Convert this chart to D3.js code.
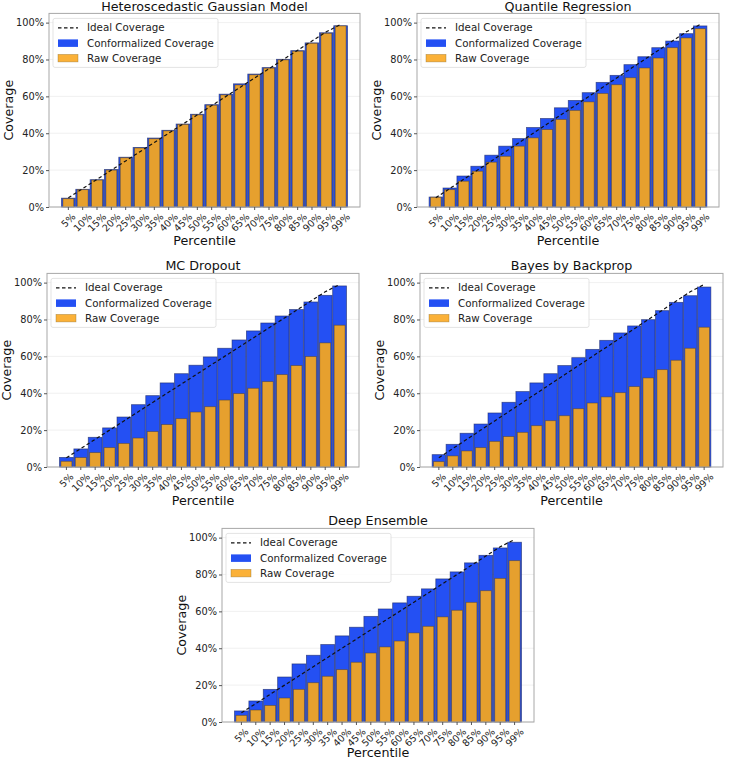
<!DOCTYPE html>
<html>
<head>
<meta charset="utf-8">
<script src="https://cdn.jsdelivr.net/npm/d3@7"></script>
<style>
  body { margin: 0; background: #fff; }
  svg { display: block; font-family: "DejaVu Sans", sans-serif; }
</style>
</head>
<body>
<script>
'use strict';

// percentiles on the x axis
const percentiles = [5, 10, 15, 20, 25, 30, 35, 40, 45, 50, 55, 60, 65, 70, 75, 80, 85, 90, 95, 99];
const tickLabels = percentiles.map(p => p + '%');
const yTicks = [0, 20, 40, 60, 80, 100];

// values (coverage in %)
const hgmConf = [4.8, 9.6, 14.8, 20.3, 27.0, 32.3, 37.4, 41.6, 45.0, 50.3, 55.5, 61.2, 66.8, 72.1, 75.6, 80.1, 84.8, 89.0, 94.5, 98.3];
const hgmRaw  = [4.5, 9.4, 14.6, 20.0, 26.7, 32.0, 37.0, 41.3, 44.8, 50.0, 55.2, 60.8, 66.2, 71.7, 75.3, 79.8, 84.5, 88.8, 94.2, 98.2];

const qrConf = [5.4, 10.3, 16.8, 22.1, 28.1, 33.0, 37.1, 43.1, 48.0, 53.8, 57.8, 62.0, 67.6, 71.4, 77.2, 81.5, 86.4, 90.0, 94.0, 98.2];
const qrRaw  = [5.3, 9.4, 14.0, 19.4, 24.3, 27.5, 33.0, 37.5, 42.0, 47.5, 52.4, 57.0, 61.6, 66.3, 70.1, 75.4, 80.8, 86.4, 91.7, 96.7];

const mcConf = [5.2, 9.8, 16.1, 21.2, 27.1, 33.8, 38.7, 45.6, 50.6, 55.2, 59.7, 64.4, 68.9, 73.8, 78.1, 81.9, 85.4, 89.5, 93.1, 98.2];
const mcRaw  = [3.1, 5.1, 7.8, 10.5, 12.8, 15.7, 19.2, 23.0, 26.2, 29.8, 32.7, 36.3, 39.8, 42.7, 46.3, 50.1, 55.0, 59.9, 67.3, 76.9];

const bbbConf = [6.7, 12.3, 18.3, 23.3, 29.3, 35.1, 40.9, 45.6, 50.6, 55.0, 59.3, 63.8, 68.7, 72.7, 76.5, 79.9, 84.8, 89.3, 92.9, 97.6];
const bbbRaw  = [2.9, 6.0, 8.7, 10.5, 13.9, 16.5, 18.8, 22.4, 25.1, 27.8, 31.6, 34.7, 38.0, 40.3, 43.6, 48.3, 52.8, 57.9, 64.4, 75.8];

const deConf = [6.0, 11.4, 17.7, 24.4, 31.5, 36.2, 42.0, 46.7, 51.4, 57.3, 61.3, 64.6, 68.2, 72.2, 77.6, 81.4, 86.3, 90.4, 94.4, 97.5];
const deRaw  = [3.6, 6.5, 9.0, 13.0, 17.7, 21.3, 24.8, 28.4, 32.4, 37.4, 40.7, 43.9, 48.3, 51.9, 57.0, 60.6, 64.9, 71.2, 77.9, 87.5];

const blue = '#2450f3';
const orange = '#e6a02e';
const orangeLegend = '#fbb138';

const panels = [
  { title: 'Heteroscedastic Gaussian Model', conf: hgmConf, raw: hgmRaw, left: 49, right: 360, base: 207 },
  { title: 'Quantile Regression', conf: qrConf, raw: qrRaw, left: 417, right: 719, base: 207 },
  { title: 'MC Dropout', conf: mcConf, raw: mcRaw, left: 47, right: 359, base: 467 },
  { title: 'Bayes by Backprop', conf: bbbConf, raw: bbbRaw, left: 420, right: 723, base: 467 },
  { title: 'Deep Ensemble', conf: deConf, raw: deRaw, left: 222, right: 534, base: 722 }
];

const svg = d3.select('body').append('svg')
  .attr('width', 733)
  .attr('height', 761);

svg.append('rect').attr('width', 733).attr('height', 761).attr('fill', '#fff');

panels.forEach(drawPanel);

function drawPanel(p) {
  const top = p.base - 193.6;
  const g = svg.append('g');

  let x = d3.scaleBand()
    .domain(tickLabels)
    .range([p.left, p.right])
    .paddingInner(0)
    .paddingOuter(0.85);
  let y = d3.scaleLinear()
    .domain([0, 105])
    .range([p.base, top]);
  const bw = x.bandwidth();
  const cx = d => x(d) + bw / 2;

  // grid
  g.selectAll('.grid')
    .data(yTicks)
    .enter()
    .append('line')
      .attr('x1', p.left).attr('x2', p.right)
      .attr('y1', d => y(d)).attr('y2', d => y(d))
      .attr('stroke', '#ececec')
      .attr('stroke-width', 0.8);

  // conformalized bars (behind)
  g.selectAll('.conf')
    .data(p.conf)
    .enter()
    .append('rect')
      .attr('x', (d, i) => cx(tickLabels[i]) - bw * 0.48)
      .attr('width', bw * 0.96)
      .attr('y', d => y(d))
      .attr('height', d => p.base - y(d))
      .attr('fill', blue)
      .attr('stroke', '#1c2a6a')
      .attr('stroke-opacity', 0.7)
      .attr('stroke-width', 0.8);

  // raw bars (front)
  g.selectAll('.raw')
    .data(p.raw)
    .enter()
    .append('rect')
      .attr('x', (d, i) => cx(tickLabels[i]) - bw * 0.38)
      .attr('width', bw * 0.76)
      .attr('y', d => y(d))
      .attr('height', d => p.base - y(d))
      .attr('fill', orange)
      .attr('stroke', '#4a3a20')
      .attr('stroke-opacity', 0.55)
      .attr('stroke-width', 0.8);

  // ideal coverage line
  let line = d3.line()
    .x((d, i) => cx(tickLabels[i]))
    .y(d => y(d));
  g.append('path')
    .datum(percentiles)
    .attr('d', line)
    .attr('fill', 'none')
    .attr('stroke', '#111')
    .attr('stroke-width', 1.2)
    .attr('stroke-dasharray', '3.5,2.5');

  // frame
  g.append('rect')
    .attr('x', p.left).attr('y', top)
    .attr('width', p.right - p.left).attr('height', p.base - top)
    .attr('fill', 'none')
    .attr('stroke', '#a8a8a8')
    .attr('stroke-width', 1);

  // y axis
  let yAxis = d3.axisLeft(y)
    .tickValues(yTicks)
    .tickSize(3)
    .tickPadding(2)
    .tickFormat(d => d + '%');
  let ya = g.append('g')
    .attr('transform', 'translate(' + p.left + ',0)')
    .call(yAxis);
  ya.select('.domain').remove();
  ya.selectAll('line').attr('stroke', '#555');
  ya.selectAll('text')
    .attr('font-family', '"DejaVu Sans", sans-serif')
    .attr('font-size', '9.8px')
    .attr('fill', '#222');

  // x axis, rotated labels
  let xAxis = d3.axisBottom(x).tickSize(3).tickFormat('');
  let xa = g.append('g')
    .attr('transform', 'translate(0,' + p.base + ')')
    .call(xAxis);
  xa.select('.domain').remove();
  xa.selectAll('line').attr('stroke', '#555');

  tickLabels.forEach(function(lab) {
    let t = g.append('text')
      .attr('font-size', '9.6px')
      .attr('fill', '#222')
      .attr('text-anchor', 'middle')
      .attr('dy', '0.35em')
      .text(lab);
    const w = t.node().getComputedTextLength();
    const half = (w + 11) / Math.SQRT2 / 2;
    t.attr('transform', 'translate(' + cx(lab) + ',' + (p.base + 4 + half) + ') rotate(-45)');
  });

  // labels
  const mid = (p.left + p.right) / 2;
  g.append('text')
    .attr('x', mid).attr('y', Math.max(top - 3, 11))
    .attr('text-anchor', 'middle')
    .attr('font-size', '12.7px')
    .attr('fill', '#111')
    .text(p.title);
  g.append('text')
    .attr('x', mid).attr('y', Math.min(p.base + 38, 757))
    .attr('text-anchor', 'middle')
    .attr('font-size', '12.7px')
    .attr('fill', '#111')
    .text('Percentile');
  g.append('text')
    .attr('transform', 'translate(' + (p.left - 36) + ',' + ((top + p.base) / 2) + ') rotate(-90)')
    .attr('text-anchor', 'middle')
    .attr('font-size', '12.7px')
    .attr('fill', '#111')
    .text('Coverage');

  makeLegend(g, p.left + 4, top + 5);
}

function makeLegend(g, lx, ly) {
  g.append('rect')
    .attr('x', lx).attr('y', ly)
    .attr('width', 165).attr('height', 49)
    .attr('rx', 2)
    .attr('fill', '#fff')
    .attr('fill-opacity', 0.85)
    .attr('stroke', '#dcdcdc')
    .attr('stroke-width', 0.8);

  g.append('line')
    .attr('x1', lx + 5).attr('x2', lx + 25)
    .attr('y1', ly + 9.5).attr('y2', ly + 9.5)
    .attr('stroke', '#111')
    .attr('stroke-width', 1.2)
    .attr('stroke-dasharray', '3.5,2.5');
  g.append('rect')
    .attr('x', lx + 5).attr('y', ly + 21)
    .attr('width', 20).attr('height', 7.5)
    .attr('fill', blue);
  g.append('rect')
    .attr('x', lx + 5).attr('y', ly + 36)
    .attr('width', 20).attr('height', 7.5)
    .attr('fill', orangeLegend)
    .attr('stroke', '#8a6a2a')
    .attr('stroke-opacity', 0.6)
    .attr('stroke-width', 0.6);

  ['Ideal Coverage', 'Conformalized Coverage', 'Raw Coverage'].forEach(function(s, i) {
    g.append('text')
      .attr('x', lx + 34)
      .attr('y', ly + 13 + i * 15.3)
      .attr('font-size', '10.3px')
      .attr('fill', '#222')
      .text(s);
  });
}
</script>
</body>
</html>
